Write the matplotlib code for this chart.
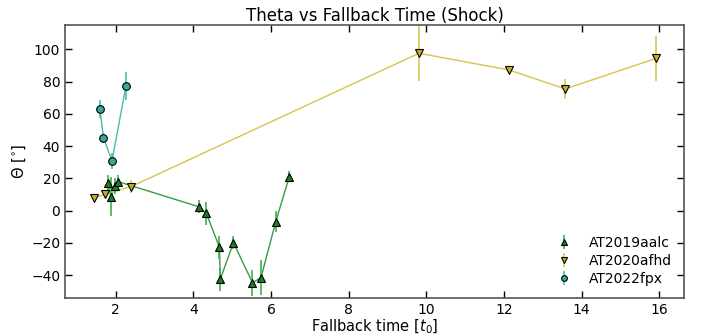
import matplotlib
matplotlib.use("Agg")
import matplotlib.pyplot as plt
import numpy as np

# Fallback time [t0], angle [deg] and its uncertainty for each event
t_aalc = [1.79, 1.87, 1.99, 2.06, 4.13, 4.33, 4.67, 4.69, 5.03, 5.52, 5.74, 6.12, 6.47]
theta_aalc = [17.0, 8.7, 15.5, 18.0, 2.5, -1.6, -22.7, -42.5, -19.8, -44.6, -41.5, -6.8, 21.1]
err_aalc = [5.0, 12.0, 5.0, 4.0, 4.0, 7.0, 7.0, 7.0, 4.0, 8.0, 11.0, 6.5, 3.6]

t_afhd = [1.43, 1.71, 2.39, 9.81, 12.13, 13.58, 15.93]
theta_afhd = [7.7, 10.2, 14.9, 97.5, 87.2, 75.4, 94.4]
err_afhd = [1.5, 2.0, 4.0, 17.0, 2.7, 6.0, 14.0]

t_fpx = [1.59, 1.68, 1.90, 2.26]
theta_fpx = [63.0, 45.2, 30.8, 77.1]
err_fpx = [5.4, 3.0, 5.0, 8.6]

plt.rcParams['font.size'] = 10

fig = plt.figure(figsize=(7.03, 3.36), dpi=100)
ax = fig.add_axes([0.0925, 0.112, 0.881, 0.814])

series = [
    (t_aalc, theta_aalc, err_aalc, '^', '#1e7d2a', '#3a9a45', '#40b050', 'AT2019aalc'),
    (t_afhd, theta_afhd, err_afhd, 'v', '#c4ae2c', '#d6c44c', '#d8c850', 'AT2020afhd'),
    (t_fpx, theta_fpx, err_fpx, 'o', '#3aa898', '#52b8aa', '#40c0b0', 'AT2022fpx'),
]

for t, th, e, mk, fc, lc, ec, name in series:
    ax.plot(t, th, '-', color=lc, lw=1.0, zorder=1)
    ax.errorbar(t, th, yerr=e, fmt=mk, ms=5.5, mfc=fc, mec='black', mew=0.8,
                ecolor=ec, elinewidth=1.2, capsize=0, label=name, zorder=2)

ax.set_xlim(0.69, 16.65)
ax.set_ylim(-54.3, 115.1)
ax.set_xticks(np.arange(2, 17, 2))
ax.set_yticks(np.arange(-40, 101, 20))
ax.tick_params(direction='in', top=True, right=True, length=5, width=1,
               labelsize=10)
for s in ax.spines.values():
    s.set_color('#555555')
    s.set_linewidth(1.2)

ax.set_title('Theta vs Fallback Time (Shock)', fontsize=12, pad=3)
ax.set_xlabel(r'Fallback time [$t_0$]', fontsize=10.5, labelpad=0)
ax.set_ylabel(r'$\Theta$ [$^{\circ}$]', fontsize=10.5, labelpad=2)
ax.legend(loc='lower right', frameon=False, markerscale=0.75, handletextpad=0.8,
          labelspacing=0.3, fontsize=10)

fig.savefig('out.png', dpi=100)
